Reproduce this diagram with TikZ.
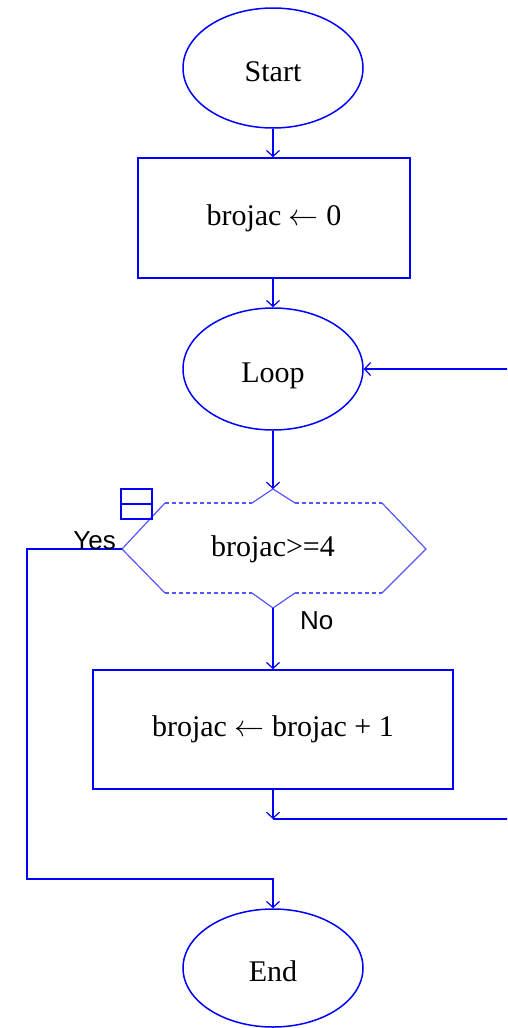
\documentclass[tikz,border=0pt]{standalone}
\usepackage{graphicx}
\usepackage{fontspec}
\setmainfont{Liberation Serif}
\newfontfamily\labfont{Liberation Sans}
\usetikzlibrary{arrows.meta,shapes.geometric}
\definecolor{fblue}{RGB}{0,0,255}
\definecolor{hexblue}{RGB}{85,85,255}
\newcommand{\bigarrow}{\resizebox{30pt}{!}{$\leftarrow$}}
\begin{document}
\begin{tikzpicture}[x=1pt,y=-1pt,
  txt/.style={font=\fontsize{30}{34}\selectfont, text=black},
  term/.style={ellipse, draw=fblue, line width=1.5pt, inner sep=0pt,
    minimum width=180pt, minimum height=120pt, txt, text height=27pt, text depth=0pt},
  proc/.style={rectangle, draw=fblue, line width=1.5pt, inner sep=0pt, txt},
  conn/.style={draw=fblue, line width=1.5pt, -{Straight Barb[length=6pt,width=13pt,line width=1.2pt]}},
  wire/.style={draw=fblue, line width=1.5pt},
  hexsolid/.style={draw=hexblue, line width=1.2pt},
  hexdash/.style={draw=hexblue, line width=1.2pt, dash pattern=on 4pt off 3pt},
  lab/.style={font=\labfont\fontsize{26}{30}\selectfont, text=black, inner sep=0pt}
]
\clip (0,0) rectangle (507,1028);
% nodes
\node[term] (start) at (273,68) {Start};
\node[proc, minimum width=272pt, minimum height=120pt] (init) at (274,218) {brojac \bigarrow{} 0};
\node[term, minimum height=122pt] (loop) at (273,369) {Loop};
\node[txt, inner sep=0pt] (dec) at (273,549) {brojac>=4};
\coordinate (dtop) at (273,489);
\coordinate (dbot) at (273,608);
\coordinate (dleft) at (122,549);
\node[proc, minimum width=360pt, minimum height=119pt] (body) at (273,729.5) {brojac \bigarrow{} brojac + 1};
\node[term, minimum height=118pt] (end) at (273,968) {End};
\coordinate (join) at (273,819);
\coordinate (ycorner) at (27,879);
% decision hexagon
\draw[hexsolid] (252,503) -- (dtop) -- (295,503);
\draw[hexsolid] (252,593) -- (dbot) -- (295,593);
\draw[hexsolid] (165,503) -- (dleft) -- (165,593);
\draw[hexsolid] (382,503) -- (426,549) -- (382,593);
\draw[hexdash] (165,503) -- (252,503) (295,503) -- (382,503);
\draw[hexdash] (165,593) -- (252,593) (295,593) -- (382,593);
% icon
\node[draw=fblue, line width=1.5pt, minimum width=31pt, minimum height=30pt, inner sep=0pt] (icon) at (136.5,504) {};
\draw[wire] (icon.west) -- (icon.east);
% connectors
\draw[conn] (start.south) -- (start.south |- init.north);
\draw[conn] (init.south -| loop.north) -- (loop.north);
\draw[conn] (loop.south) -- (dtop);
\draw[conn] (dbot) -- (body.north);
\draw[conn] (body.south) -- (join);
\draw[conn] (join) -- ++(260,0) |- (loop.east);
\draw[conn] (dleft) -| (ycorner) -| (end.north);
% labels
\node[lab, anchor=base east] (yes) at (116,549) {Yes};
\node[lab, anchor=base west] (no) at (300,629) {No};
\end{tikzpicture}
\end{document}
